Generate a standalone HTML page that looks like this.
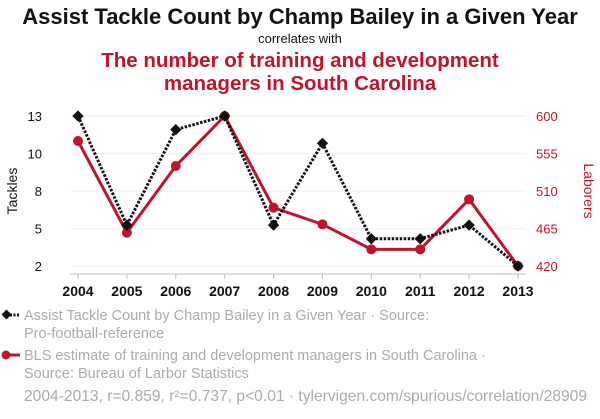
<!DOCTYPE html>
<html><head><meta charset="utf-8"><style>
body{margin:0;background:#fff;font-family:"Liberation Sans",sans-serif}
svg text{font-family:"Liberation Sans",sans-serif}
</style></head><body>
<svg width="600" height="414">
<text x="300" y="24" text-anchor="middle" font-size="22" font-weight="bold" fill="#111">Assist Tackle Count by Champ Bailey in a Given Year</text>
<text x="300" y="43" text-anchor="middle" font-size="13" fill="#111">correlates with</text>
<text x="300" y="67" text-anchor="middle" font-size="20.5" font-weight="bold" fill="#c0142e">The number of training and development</text>
<text x="300" y="90" text-anchor="middle" font-size="20.5" font-weight="bold" fill="#c0142e">managers in South Carolina</text>
<g id="grid"></g>
<line x1="70" y1="274" x2="526" y2="274" stroke="#bbb"/>
<g id="xt"></g><g id="lt"></g><g id="rt"></g>
<text transform="translate(17,191) rotate(-90)" text-anchor="middle" font-size="14" fill="#111">Tackles</text>
<text transform="translate(584,191) rotate(90)" text-anchor="middle" font-size="14" fill="#c0142e">Laborers</text>
<g id="series"></g>
<g>
<line x1="3" y1="315" x2="20" y2="315" stroke="#111" stroke-width="3" stroke-dasharray="2,1.5"/>
<rect x="3" y="311" width="7" height="7" fill="#111" transform="rotate(45 6.5 314.5)"/>
<text x="24" y="320" font-size="14.5" fill="#aaa">Assist Tackle Count by Champ Bailey in a Given Year · Source:</text>
<text x="24" y="338" font-size="14.5" fill="#aaa">Pro-football-reference</text></g>
<g>
<line x1="3" y1="355" x2="20" y2="355" stroke="#c0142e" stroke-width="3"/>
<circle cx="6" cy="355" r="4.5" fill="#c0142e"/>
<text x="24" y="360" font-size="14.5" fill="#aaa">BLS estimate of training and development managers in South Carolina ·</text>
<text x="24" y="378" font-size="14.5" fill="#aaa">Source: Bureau of Larbor Statistics</text></g>
<text x="24" y="401" font-size="15.6" fill="#aaa">2004-2013, r=0.859, r²=0.737, p&lt;0.01 · tylervigen.com/spurious/correlation/28909</text>
</svg>
<script>
const years=[2004,2005,2006,2007,2008,2009,2010,2011,2012,2013];
const tackles=[13,5,12,13,5,11,4,4,5,2];
const managers=[570,460,540,600,490,470,440,440,500,420];
const leftTicks=[2,4.75,7.5,10.25,13];
const rightTicks=[420,465,510,555,600];
const NS="http://www.w3.org/2000/svg";
const X=i=>78+i*(518-78)/(years.length-1);
const YL=v=>266-(v-2)/(13-2)*150;
const YR=v=>266-(v-420)/(600-420)*150;
function mk(p,t,a){const e=document.createElementNS(NS,t);for(const k in a)e.setAttribute(k,a[k]);document.getElementById(p).appendChild(e);return e;}
leftTicks.forEach(v=>{
const g=mk('grid','line',{x1:70,x2:526,y1:YL(v),y2:YL(v),stroke:'#eee'});


const t=mk('lt','text',{x:42,y:YL(v)+5,'text-anchor':'end','font-size':13,fill:'#111'});t.textContent=Math.round(v);

});
rightTicks.forEach(v=>{const t=mk('rt','text',{x:536,y:YR(v)+5,'font-size':13,fill:'#c0142e'});t.textContent=v;

});
years.forEach((y,i)=>{mk('xt','line',{x1:X(i),x2:X(i),y1:274,y2:279,stroke:'#bbb'});
const t=mk('xt','text',{x:X(i),y:296,'text-anchor':'middle','font-size':14,'font-weight':'bold',fill:'#111'});t.textContent=y;

});
const rl=mk('series','polyline',{points:managers.map((v,i)=>X(i)+','+YR(v)).join(' '),fill:'none',stroke:'#c0142e','stroke-width':3});


managers.forEach((v,i)=>{const c=mk('series','circle',{cx:X(i),cy:YR(v),r:5,fill:'#c0142e'});

});
const bl=mk('series','polyline',{points:tackles.map((v,i)=>X(i)+','+YL(v)).join(' '),fill:'none',stroke:'#111','stroke-width':3,'stroke-dasharray':'2.5,1.5'});


tackles.forEach((v,i)=>{const r=mk('series','rect',{x:X(i)-4,y:YL(v)-4,width:8,height:8,fill:'#111',transform:`rotate(45 ${X(i)} ${YL(v)})`});

});
</script>
</body></html>
